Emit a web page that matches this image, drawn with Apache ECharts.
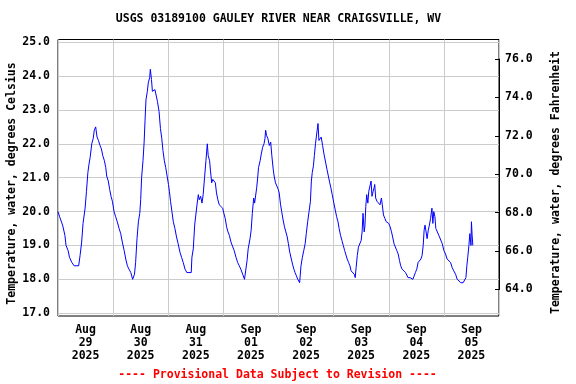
<!DOCTYPE html>
<html>
<head>
<meta charset="utf-8">
<script src="https://cdn.jsdelivr.net/npm/echarts@6/dist/echarts.min.js"></script>
<style>html,body{margin:0;padding:0;background:#fff}#c{width:576px;height:384px}</style>
</head>
<body>
<div id="c"></div>
<script>
const titleText = 'USGS 03189100 GAULEY RIVER NEAR CRAIGSVILLE, WV';
const footText = '---- Provisional Data Subject to Revision ----';
const leftName = 'Temperature, water, degrees Celsius';
const rightName = 'Temperature, water, degrees Fahrenheit';
const dayLabels = ['Aug\n29\n2025','Aug\n30\n2025','Aug\n31\n2025','Sep\n01\n2025','Sep\n02\n2025','Sep\n03\n2025','Sep\n04\n2025','Sep\n05\n2025'];
// hours since 2025-08-29 00:00
const hours = [0,0.7,2,3,3.5,4.4,5,6,7,9,9.6,10.3,10.9,11.8,12.4,13,13.5,14,14.7,15.3,15.8,16.4,17,17.6,18.3,18.9,19.5,20.2,20.8,21.2,21.9,22.5,23.1,23.7,
24.4,25.1,25.8,26.6,27.3,28,28.8,29.5,30.2,30.9,31.7,32.5,33.3,33.8,34.4,35,35.6,36,36.4,37,37.5,37.9,38.3,38.9,39.3,39.9,40.2,40.7,41.1,41.7,42.2,42.8,43.3,44,44.6,45.2,45.7,46.3,46.9,47.5,
48.1,48.5,49,49.6,50.2,50.9,51.6,52.3,53.1,53.8,54.5,55.3,56.1,58,58.3,58.9,59.5,60,60.6,61.1,61.5,62.1,62.7,63.2,63.8,64.4,65,65.4,66,66.4,66.9,67.4,68,68.5,69,69.6,70.2,70.9,71.7,
72.2,72.8,73.4,74,74.6,75.3,76,76.7,77.5,78.2,78.9,79.6,80.4,81.2,82,82.3,82.8,83.6,84.1,84.6,85.2,85.6,86.1,86.5,87,87.3,88,88.5,89.1,89.7,90.1,90.4,90.8,91.4,92,92.6,93.1,93.7,94.1,94.7,95.3,95.9,
96.3,96.9,97.4,98,98.6,99.2,99.8,100.3,100.9,101.5,102.1,102.7,103.2,103.8,104.4,105.2,105.8,106.4,107,107.6,108.1,108.7,109.3,109.9,110.3,110.7,111.2,111.6,112.1,112.6,113.2,113.6,114.1,114.6,115.2,115.8,116.5,117.1,117.7,118.3,118.8,119.4,
120.1,120.7,121.3,121.9,122.4,123,123.6,124.2,124.8,125.3,125.9,126.5,127.1,127.6,128.2,129,129.4,129.8,130.3,130.8,131.4,132,132.4,132.8,133.3,133.6,134,134.4,134.9,135.3,135.7,136.3,136.7,137.2,137.6,137.9,138.3,138.9,139.6,140.2,140.8,141.2,141.7,142.3,142.9,143.4,
144,144.6,145.2,145.7,146.3,146.9,147.5,148.1,148.7,149.2,149.8,150.5,151.3,151.8,152.4,153.3,153.9,154.5,155,155.6,156.2,156.8,157.4,158,158.5,159,159.4,159.8,160.3,160.7,161.2,161.7,162.2,162.8,163.2,163.6,164.1,164.5,165.2,165.8,166.5,167.3,
168,168.7,169.4,170.2,170.9,171.6,172.3,173.1,173.8,174.5,175.4,176.4,177.1,177.6,178,178.4,178.9,179.3,179.8,180,180.3,180.6];
const tempC = [20.0,19.85,19.6,19.3,19.0,18.85,18.65,18.5,18.4,18.4,18.7,19.1,19.65,20.1,20.6,21.15,21.4,21.6,22.0,22.15,22.4,22.5,22.2,22.1,21.95,21.85,21.65,21.5,21.3,21.05,20.9,20.65,20.45,20.3,
20.0,19.85,19.7,19.5,19.35,19.1,18.85,18.6,18.4,18.3,18.2,18.0,18.15,18.5,19.2,19.7,19.95,20.35,21.0,21.5,22.05,22.7,23.3,23.55,23.8,23.95,24.2,23.9,23.55,23.6,23.6,23.65,23.25,22.95,22.45,22.15,21.8,21.5,21.3,21.05,
20.8,20.6,20.3,20.0,19.7,19.5,19.25,19.05,18.8,18.65,18.5,18.3,18.2,18.2,18.65,18.9,19.6,19.65,20.25,20.5,20.35,20.45,20.25,20.5,21.0,21.5,22.0,21.65,21.5,21.2,20.85,20.95,21.0,20.85,20.55,20.35,20.2,20.25,20.1,
19.95,19.8,19.55,19.4,19.3,19.1,19.05,18.85,18.65,18.5,18.4,18.3,18.15,18.0,18.0,18.55,18.9,19.2,19.45,19.95,20.4,20.25,20.25,20.7,21.05,21.3,21.5,21.7,21.9,22.0,22.15,22.4,22.25,22.15,21.95,22.05,21.65,21.25,21.05,20.85,20.8,20.65,
20.55,20.2,20.0,19.75,19.55,19.4,19.25,19.05,18.8,18.75,18.45,18.3,18.2,18.1,18.0,17.9,18.4,18.65,18.85,19.05,19.35,19.7,20.0,20.3,20.9,21.15,21.35,21.65,22.0,22.0,22.6,22.1,22.15,22.2,21.95,21.7,21.7,21.25,21.05,20.85,20.7,20.5,
20.25,20.05,19.85,19.7,19.5,19.3,19.15,19.0,18.85,18.8,18.6,18.5,18.4,18.25,18.2,18.15,18.05,18.35,18.7,18.95,18.9,19.15,19.4,19.95,19.4,19.55,20.15,20.5,20.25,20.6,20.6,20.9,20.45,20.6,20.7,20.8,20.4,20.3,20.3,20.2,20.4,20.2,19.9,19.8,19.7,19.7,
19.65,19.55,19.4,19.25,19.05,19.0,18.85,18.75,18.55,18.4,18.3,18.25,18.2,18.15,18.05,18.05,18.0,18.0,18.05,18.2,18.3,18.5,18.55,18.6,18.7,19.0,19.45,19.6,19.65,19.2,19.45,19.6,19.8,20.1,19.65,20.0,19.85,19.5,19.5,19.3,19.25,19.05,
18.85,18.75,18.6,18.55,18.5,18.35,18.25,18.15,18.0,17.95,17.9,17.9,17.95,18.05,18.4,18.65,19.0,19.35,19.0,19.7,19.3,19.0];

const FONT = 'DejaVu Sans Mono';
const seriesData = hours.map((h, i) => [h, tempC[i]]);
const txt = { fontFamily: FONT, fontWeight: 'bold', fontSize: 11.5, color: '#000' };

const chart = echarts.init(document.getElementById('c'), null, { renderer: 'canvas' });
chart.setOption({
  animation: false,
  backgroundColor: '#fff',
  grid: [
    { left: 58, top: 39.5, width: 441, height: 276.5, show: true, borderColor: '#000', borderWidth: 1, backgroundColor: 'transparent' },
    { left: 58, top: 42.2, width: 441, height: 271 },
    { left: 58, top: 59, width: 441, height: 230.5 }
  ],
  xAxis: [
    { gridIndex: 0, type: 'category', data: dayLabels, boundaryGap: true,
      axisLine: { show: false }, axisTick: { show: false },
      splitLine: { show: true, lineStyle: { color: '#cccccc', width: 1 } },
      axisLabel: Object.assign({ interval: 0, margin: 8, lineHeight: 12.7 }, txt) },
    { gridIndex: 1, type: 'value', min: 0, max: 192, show: false },
    { gridIndex: 2, type: 'value', min: 0, max: 1, show: false }
  ],
  yAxis: [
    { gridIndex: 0, type: 'value', min: 0, max: 1, show: false },
    { gridIndex: 1, type: 'value', min: 17, max: 25, interval: 1,
      axisLine: { show: false }, axisTick: { show: false },
      splitLine: { show: true, lineStyle: { color: '#cccccc', width: 1 } },
      axisLabel: Object.assign({ margin: 8, formatter: v => v.toFixed(1) }, txt) },
    { gridIndex: 2, type: 'value', position: 'right', min: 64, max: 76, interval: 2,
      axisLine: { show: true, onZero: false, lineStyle: { color: '#000', width: 1 } },
      axisTick: { show: true, inside: true, length: 4, lineStyle: { color: '#000', width: 1 } },
      splitLine: { show: false },
      axisLabel: Object.assign({ margin: 6, formatter: v => v.toFixed(1) }, txt) }
  ],
  series: [{
    type: 'line', xAxisIndex: 1, yAxisIndex: 1, data: seriesData,
    showSymbol: false, symbol: 'none', lineStyle: { color: '#0000ff', width: 1 }, z: 5
  }],
  graphic: [
    { type: 'text', x: 278.5, y: 19, style: { text: titleText, align: 'center', verticalAlign: 'middle', fill: '#000', font: 'bold 11.5px ' + FONT } },
    { type: 'text', x: 277.5, y: 375, style: { text: footText, align: 'center', verticalAlign: 'middle', fill: '#ff0000', font: 'bold 11.5px ' + FONT } },
    { type: 'text', x: 12, y: 183.5, rotation: Math.PI / 2, style: { text: leftName, align: 'center', verticalAlign: 'middle', fill: '#000', font: 'bold 11.5px ' + FONT } },
    { type: 'text', x: 556, y: 182.5, rotation: Math.PI / 2, style: { text: rightName, align: 'center', verticalAlign: 'middle', fill: '#000', font: 'bold 11.5px ' + FONT } }
  ]
});
</script>
</body>
</html>
